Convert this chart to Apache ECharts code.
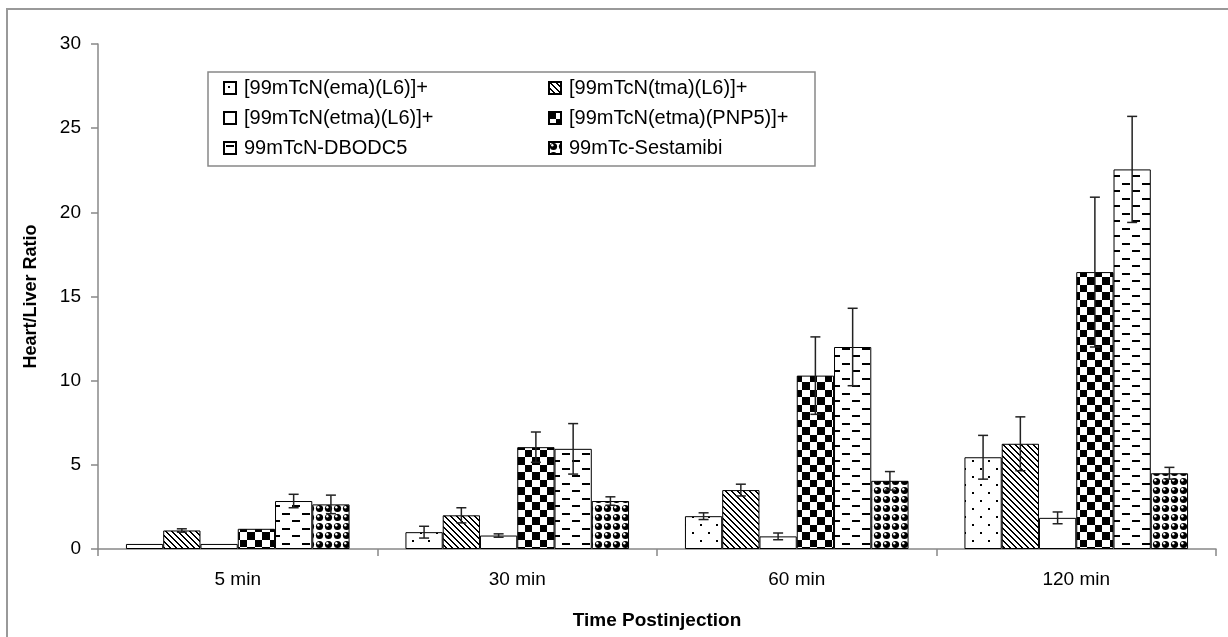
<!DOCTYPE html>
<html>
<head>
<meta charset="utf-8">
<script src="https://cdn.jsdelivr.net/npm/echarts@6/dist/echarts.min.js"></script>
<style>
  html, body { margin: 0; padding: 0; background: #fff; }
  #chart { width: 1228px; height: 637px; }
</style>
</head>
<body>
<div id="chart"></div>
<script>
// data
var categories = ['5 min', '30 min', '60 min', '120 min'];
var seriesNames = ['[99mTcN(ema)(L6)]+', '[99mTcN(tma)(L6)]+', '[99mTcN(etma)(L6)]+',
  '[99mTcN(etma)(PNP5)]+', '99mTcN-DBODC5', '99mTc-Sestamibi'];

var emaVals = [0.3, 1.0, 1.95, 5.45];
var emaErr = [0, 0.35, 0.2, 1.3];
var tmaVals = [1.1, 2.0, 3.5, 6.25];
var tmaErr = [0.1, 0.45, 0.35, 1.6];
var etmaVals = [0.3, 0.8, 0.75, 1.85];
var etmaErr = [0, 0.1, 0.2, 0.35];
var pnp5Vals = [1.2, 6.05, 10.3, 16.45];
var pnp5Err = [0, 0.9, 2.3, 4.45];
var dbodcVals = [2.85, 5.95, 12.0, 22.55];
var dbodcErr = [0.4, 1.5, 2.3, 3.15];
var sestaVals = [2.65, 2.85, 4.05, 4.5];
var sestaErr = [0.55, 0.25, 0.55, 0.35];

var yTicks = [0, 5, 10, 15, 20, 25, 30];

var allVals = [emaVals, tmaVals, etmaVals, pnp5Vals, dbodcVals, sestaVals];
var allErr = [emaErr, tmaErr, etmaErr, pnp5Err, dbodcErr, sestaErr];

// fill patterns (black & white like the printed figure)
function makeCanvas(w, h, draw) {
  var c = document.createElement('canvas');
  c.width = w; c.height = h;
  var ctx = c.getContext('2d');
  ctx.fillStyle = '#fff';
  ctx.fillRect(0, 0, w, h);
  ctx.fillStyle = '#000';
  draw(ctx);
  return c;
}

var dotPat = makeCanvas(16, 16, function(ctx) {
  ctx.fillRect(4, 4, 2, 2);
  ctx.fillRect(12, 12, 2, 2);
});
var diagPat = makeCanvas(6, 6, function(ctx) {
  for (var i = 0; i < 6; i++) {
    ctx.fillRect(i, i, 1, 1);
    ctx.fillRect((i + 1) % 6, i, 1, 1);
  }
});
var plainPat = null;
var checkPat = makeCanvas(15, 15, function(ctx) {
  ctx.fillRect(0, 0, 7, 7);
  ctx.fillRect(7, 7, 8, 8);
});
var dashPat = makeCanvas(20, 15, function(ctx) {
  ctx.fillRect(2, 3, 8, 2);
  ctx.fillRect(12, 10, 8, 2);
});
var ballPat = makeCanvas(9, 9, function(ctx) {
  ctx.beginPath();
  ctx.arc(4.5, 4.5, 3.6, 0, Math.PI * 2);
  ctx.fill();
  ctx.fillStyle = '#fff';
  ctx.beginPath();
  ctx.arc(3.3, 3.3, 1.2, 0, Math.PI * 2);
  ctx.fill();
});
var patterns = [dotPat, diagPat, plainPat, checkPat, dashPat, ballPat];

var series = [];
for (var k = 0; k < 6; k++) {
  series.push({
    name: seriesNames[k],
    type: 'bar',
    data: allVals[k],
    barGap: '0%',
    barCategoryGap: '20%',
    itemStyle: {
      color: patterns[k] ? { image: patterns[k], repeat: 'repeat' } : '#fff',
      borderColor: '#000',
      borderWidth: 1
    },
    emphasis: { disabled: true }
  });
}

// error bars, one custom series per bar series
for (var k = 0; k < 6; k++) {
  (function(k) {
    var data = allVals[k].map(function(v, i) { return [i, v, allErr[k][i]]; });
    series.push({
      name: 'err' + k,
      type: 'custom',
      z: 10,
      silent: true,
      data: data,
      renderItem: function(params, api) {
        var idx = api.value(0), v = api.value(1), e = api.value(2);
        if (!e) return null;
        var c = api.coord([idx, v]);
        var bw = api.size([1, 0])[0] * 0.8 / 6;
        var x = c[0] + (k - 2.5) * bw;
        var hi = api.coord([idx, v + e])[1];
        var lo = api.coord([idx, v - e])[1];
        var st = { stroke: '#222', lineWidth: 1.5 };
        return {
          type: 'group',
          children: [
            { type: 'line', shape: { x1: x, y1: lo, x2: x, y2: hi }, style: st },
            { type: 'line', shape: { x1: x - 5, y1: hi, x2: x + 5, y2: hi }, style: st },
            { type: 'line', shape: { x1: x - 5, y1: lo, x2: x + 5, y2: lo }, style: st }
          ]
        };
      }
    });
  })(k);
}

var font = 'Liberation Sans, Arial, sans-serif';
var legendText = { fontFamily: font, fontSize: 20, color: '#000', lineHeight: 20, padding: [0, 0, 0, 3] };

var mychart = echarts.init(document.getElementById('chart'));
var option = {
  backgroundColor: '#fff',
  animation: false,
  graphic: [
    {
      type: 'rect',
      shape: { x: 7, y: 9, width: 1400, height: 800 },
      style: { fill: 'none', stroke: '#999', lineWidth: 2 },
      silent: true
    },
    {
      type: 'rect',
      shape: { x: 208, y: 72, width: 607, height: 94 },
      style: { fill: '#fff', stroke: '#888', lineWidth: 1.5 },
      z: -1,
      silent: true
    }
  ],
  legend: [
    {
      orient: 'vertical',
      left: 218, top: 73,
      itemWidth: 12, itemHeight: 12, itemGap: 10,
      icon: 'rect',
      selectedMode: false,
      textStyle: legendText,
      data: [seriesNames[0], seriesNames[2], seriesNames[4]]
    },
    {
      orient: 'vertical',
      left: 543, top: 73,
      itemWidth: 12, itemHeight: 12, itemGap: 10,
      icon: 'rect',
      selectedMode: false,
      textStyle: legendText,
      data: [seriesNames[1], seriesNames[3], seriesNames[5]]
    }
  ],
  grid: { left: 98, right: 12, top: 44, bottom: 88, containLabel: false },
  xAxis: {
    type: 'category',
    data: categories,
    name: 'Time Postinjection',
    nameLocation: 'middle',
    nameGap: 62,
    nameTextStyle: { fontFamily: font, fontSize: 19, fontWeight: 'bold', color: '#000' },
    axisLine: { lineStyle: { color: '#888', width: 1.5 } },
    axisTick: { show: true, length: 7, lineStyle: { color: '#888', width: 1.5 } },
    axisLabel: { fontFamily: font, fontSize: 19, color: '#000', margin: 21 },
    splitLine: { show: false }
  },
  yAxis: {
    type: 'value',
    min: yTicks[0],
    max: yTicks[yTicks.length - 1],
    interval: 5,
    name: 'Heart/Liver Ratio',
    nameLocation: 'middle',
    nameGap: 58,
    nameRotate: 90,
    nameTextStyle: { fontFamily: font, fontSize: 18, fontWeight: 'bold', color: '#000' },
    axisLine: { show: true, lineStyle: { color: '#888', width: 1.5 } },
    axisTick: { show: true, length: 7, lineStyle: { color: '#888', width: 1.5 } },
    axisLabel: { fontFamily: font, fontSize: 19, color: '#000', margin: 17 },
    splitLine: { show: false }
  },
  series: series
};
mychart.setOption(option);

window.addEventListener('resize', function() {
  mychart.resize();
});
</script>
</body>
</html>
